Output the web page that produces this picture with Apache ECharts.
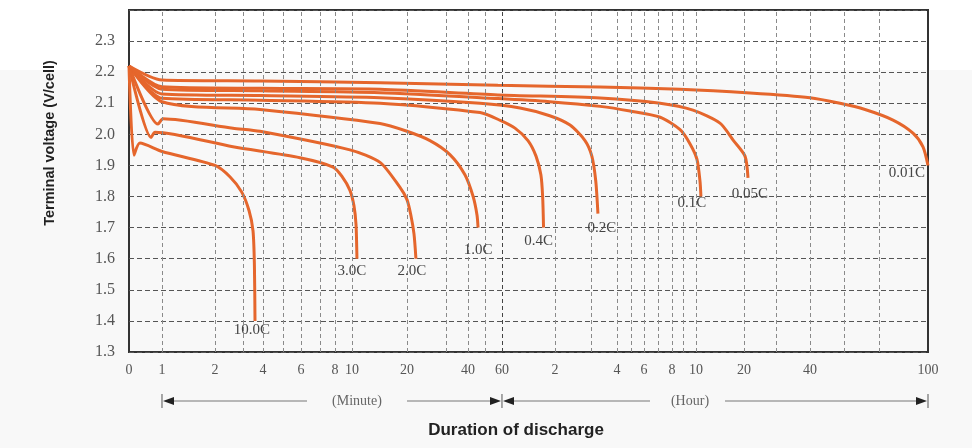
<!DOCTYPE html>
<html>
<head>
<meta charset="utf-8">
<script src="https://cdn.jsdelivr.net/npm/echarts@6/dist/echarts.min.js"></script>
<style>
  html, body { margin: 0; padding: 0; background: #f8f8f8; }
  #chart { width: 972px; height: 448px; }
</style>
</head>
<body>
<div id="chart"></div>
<script>
// discharge rates and curves: [duration in minutes, terminal voltage V/cell]
const RATES = ['10.0C', '3.0C', '2.0C', '1.0C', '0.4C', '0.2C', '0.1C', '0.05C', '0.01C']

const c10 = [[0, 2.22], [0.15, 1.933], [0.33, 1.972], [1, 1.945], [2, 1.90], [2.54, 1.863], [2.95, 1.815], [3.3, 1.755], [3.5, 1.69], [3.57, 1.58], [3.6, 1.40]]
const c3 = [[0, 2.22], [0.67, 1.99], [0.79, 2.007], [2.64, 1.96], [5.94, 1.925], [7.87, 1.895], [8.82, 1.865], [9.76, 1.82], [10.36, 1.77], [10.73, 1.71], [10.9, 1.60]]
const c2 = [[0, 2.22], [0.88, 2.033], [1.02, 2.05], [2.64, 2.02], [3.85, 2.01], [9.76, 1.95], [15.1, 1.91], [18.7, 1.83], [20, 1.79], [21.0, 1.74], [21.8, 1.68], [22.3, 1.60]]
const c1 = [[0, 2.22], [1, 2.105], [3.85, 2.08], [15.1, 2.035], [20, 2.01], [25.9, 1.98], [31.8, 1.935], [38.6, 1.87], [43.0, 1.80], [45.3, 1.74], [45.9, 1.70]]
const c04 = [[0, 2.22], [1, 2.116], [3.85, 2.11], [15.1, 2.10], [47.1, 2.07], [59, 2.045], [74.7, 2.02], [89.4, 1.98], [98.5, 1.93], [104, 1.87], [106, 1.80], [107, 1.70]]
const c02 = [[0, 2.22], [1, 2.13], [3.85, 2.125], [15.1, 2.118], [47.1, 2.10], [80.4, 2.085], [114, 2.06], [145, 2.03], [170, 1.98], [182, 1.93], [191, 1.85], [196, 1.745]]
const c01 = [[0, 2.22], [1, 2.145], [3.85, 2.14], [15.1, 2.134], [57.6, 2.115], [114, 2.105], [201, 2.09], [296, 2.075], [429, 2.055], [524, 2.015], [572, 1.97], [612, 1.92], [650, 1.85], [662, 1.80]]
const c005 = [[0, 2.22], [1, 2.153], [3.85, 2.148], [15.1, 2.145], [57.6, 2.127], [201, 2.117], [429, 2.10], [586, 2.078], [900, 2.036], [1069, 1.98], [1219, 1.93], [1275, 1.86]]
const c001 = [[0, 2.22], [1, 2.175], [3.85, 2.172], [15.1, 2.166], [57.6, 2.158], [201, 2.152], [524, 2.145], [1312, 2.133], [2400, 2.118], [2929, 2.10], [3360, 2.08], [4286, 2.046], [5265, 2.004], [5755, 1.96], [6000, 1.90]]
const CURVES = [c10, c3, c2, c1, c04, c02, c01, c005, c001]

// the printed time axis is hand drawn: knots of its (non uniform) scale, minutes -> % of axis
const TIME_KNOTS = [0, 1, 2, 3, 4, 5, 6, 7, 8, 10, 20, 30, 40, 50, 60, 120, 180, 240, 300, 360, 420, 480, 540, 600, 1200, 1800, 2400, 3000, 3600, 6000]
const AXIS_KNOTS = [0, 4.13, 10.76, 14.27, 16.77, 19.27, 21.53, 23.90, 25.78, 27.91, 34.79, 39.67, 42.43, 44.56, 46.68, 53.32, 57.82, 61.08, 62.83, 64.46, 66.21, 67.96, 69.34, 70.96, 76.97, 80.98, 85.23, 89.49, 93.87, 100]

const X_LABEL_T = [0, 1, 2, 4, 6, 8, 10, 20, 40, 60, 120, 240, 360, 480, 600, 1200, 2400, 6000]
const X_LABEL_TXT = ['0', '1', '2', '4', '6', '8', '10', '20', '40', '60', '2', '4', '6', '8', '10', '20', '40', '100']

// label offset from each curve's end point (px)
const LABEL_OFFSET = [[-3, 9], [-5, 12], [-4, 12], [0, 22], [-5, 13], [4, 14], [-9, 7], [2, 16], [-21, 8]]

const ORANGE = '#E5662C'
const SERIF = '"Liberation Serif", "DejaVu Serif", serif'
const SANS = '"Liberation Sans", Arial, sans-serif'

function toAxis(t) {
  for (let i = 1; i < TIME_KNOTS.length; i++) {
    if (t <= TIME_KNOTS[i]) {
      const t0 = TIME_KNOTS[i - 1], t1 = TIME_KNOTS[i]
      const a0 = AXIS_KNOTS[i - 1], a1 = AXIS_KNOTS[i]
      return a0 + (a1 - a0) * (t - t0) / (t1 - t0)
    }
  }
  return 100
}

const labelPos = X_LABEL_T.map(toAxis)
const gridTimes = TIME_KNOTS.slice(1, -1)

const curveSeries = CURVES.map((c, i) => {
  const pts = c.map(([t, v]) => [toAxis(t), v])
  return {
    name: RATES[i],
    type: 'line',
    data: pts,
    showSymbol: false,
    smooth: 0.25,
    z: 3,
    lineStyle: { color: ORANGE, width: 3 },
    markPoint: {
      symbol: 'circle',
      symbolSize: 1,
      silent: true,
      itemStyle: { color: 'rgba(0,0,0,0)' },
      label: {
        show: true,
        position: 'inside',
        offset: LABEL_OFFSET[i],
        formatter: RATES[i],
        color: '#444',
        fontFamily: SERIF,
        fontSize: 15,
      },
      data: [{ coord: pts[pts.length - 1] }],
    },
  }
})

const gridSeries = {
  type: 'line',
  data: [],
  z: 1,
  silent: true,
  markLine: {
    symbol: 'none',
    silent: true,
    label: { show: false },
    lineStyle: { color: '#8a8a8a', width: 1, type: [4, 3] },
    data: gridTimes.map(t => ({
      xAxis: toAxis(t),
      lineStyle: t === 60 ? { color: '#444', width: 1, type: [4, 3] } : undefined,
    })),
  },
}

const chart = echarts.init(document.getElementById('chart'))
const option = {
  animation: false,
  backgroundColor: '#f8f8f8',
  grid: {
    left: 129, right: 44, top: 10, bottom: 96,
    show: true, borderColor: '#333', borderWidth: 2,
  },
  xAxis: {
    type: 'value',
    min: 0, max: 100,
    axisLine: { show: false },
    axisTick: { show: false },
    splitLine: { show: false },
    axisLabel: {
      customValues: labelPos,
      margin: 11,
      color: '#555',
      fontFamily: SERIF,
      fontSize: 14,
      formatter: v => {
        const i = labelPos.findIndex(p => Math.abs(p - v) < 1e-6)
        return i >= 0 ? X_LABEL_TXT[i] : ''
      },
    },
  },
  yAxis: {
    type: 'value',
    min: 1.3, max: 2.4, interval: 0.1,
    axisLine: { show: false },
    axisTick: { show: false },
    splitLine: { show: true, lineStyle: { color: '#555', width: 1, type: [5, 3] } },
    axisLabel: {
      margin: 14,
      color: '#555',
      fontFamily: SERIF,
      fontSize: 16,
      formatter: v => (v > 2.35 ? '' : v.toFixed(1)),
    },
  },
  series: [gridSeries, ...curveSeries],
}
chart.setOption(option)

// range arrows under the time axis
const px = t => chart.convertToPixel({ xAxisIndex: 0 }, toAxis(t))
const xa = px(1), xb = px(60), xc = px(6000)
const ay = 401
const grey = '#777'
const line = (x1, x2) => ({ type: 'line', shape: { x1, y1: ay, x2, y2: ay }, style: { stroke: grey, lineWidth: 1 }, silent: true })
const tick = x => ({ type: 'line', shape: { x1: x, y1: ay - 7, x2: x, y2: ay + 7 }, style: { stroke: '#555', lineWidth: 1 }, silent: true })
const head = (x, dir) => ({
  type: 'polygon',
  shape: { points: [[x, ay], [x + dir * 11, ay - 4], [x + dir * 11, ay + 4]] },
  style: { fill: '#222' }, silent: true,
})
const label = (text, x) => ({
  type: 'text', x, y: ay, silent: true,
  style: { text, fill: '#666', font: '14px ' + SERIF, textAlign: 'center', textVerticalAlign: 'middle' },
})

chart.setOption({
  graphic: [
    { type: 'rect', z: -10, silent: true, shape: { x: 0, y: 0, width: 972, height: 70 }, style: { fill: '#ffffff' } },
    tick(xa), tick(xb), tick(xc),
    head(xa + 1, 1), head(xb - 1, -1), head(xb + 1, 1), head(xc - 1, -1),
    line(xa + 12, 307), line(407, xb - 12),
    line(xb + 12, 650), line(725, xc - 12),
    label('(Minute)', 357), label('(Hour)', 690),
    {
      type: 'text', x: 50, y: 143, rotation: Math.PI / 2, silent: true,
      style: { text: 'Terminal voltage (V/cell)', fill: '#222', font: 'bold 14.5px ' + SANS, textAlign: 'center', textVerticalAlign: 'middle' },
    },
    {
      type: 'text', x: 516, y: 430, silent: true,
      style: { text: 'Duration of discharge', fill: '#222', font: 'bold 17px ' + SANS, textAlign: 'center', textVerticalAlign: 'middle' },
    },
  ],
})
</script>
</body>
</html>
